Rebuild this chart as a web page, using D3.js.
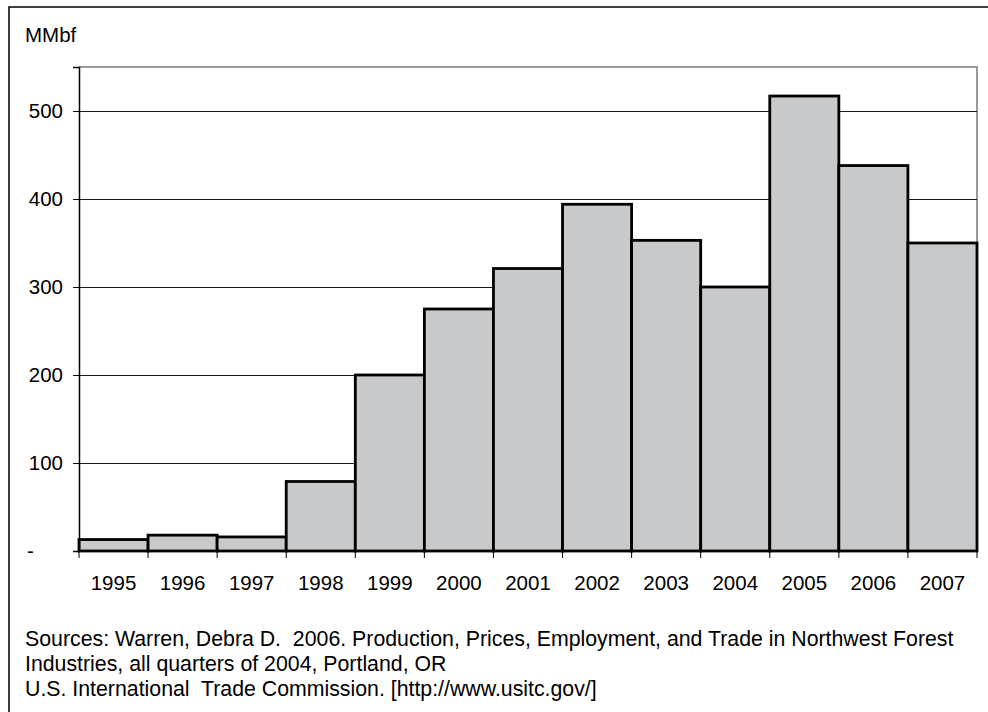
<!DOCTYPE html>
<html>
<head>
<meta charset="utf-8">
<script src="https://cdn.jsdelivr.net/npm/d3@7"></script>
<style>
  body { margin: 0; background: #fff; }
  svg { display: block; font-family: "Liberation Sans", Arial, sans-serif; }
</style>
</head>
<body>
<div id="chart"></div>
<script>
var years = ["1995","1996","1997","1998","1999","2000","2001","2002","2003","2004","2005","2006","2007"];
var volumes = [13, 18, 16, 79, 200, 275, 321, 394, 353, 300, 517, 438, 350];
var yTicks = [0, 100, 200, 300, 400, 500];
var sourceLines = [
    "Sources: Warren, Debra D.  2006. Production, Prices, Employment, and Trade in Northwest Forest",
    "Industries, all quarters of 2004, Portland, OR",
    "U.S. International  Trade Commission. [http://www.usitc.gov/]"
];

var width = 988, height = 712;
var plot = {left: 79, right: 977, top: 67, bottom: 551};

var svg = d3.select("#chart").append("svg")
    .attr("width", width)
    .attr("height", height);

// outer frame
svg.append("rect")
    .attr("x", 9).attr("y", 7)
    .attr("width", 1000).attr("height", 720)
    .attr("fill", "#fff")
    .attr("stroke", "#000")
    .attr("stroke-width", 1.5);

var x = d3.scaleBand().domain(years).range([plot.left, plot.right]).padding(0);
var y = d3.scaleLinear().domain([0, 550]).range([plot.bottom, plot.top]);

// plot border (grey top/right)
svg.append("path")
    .attr("d", "M" + plot.left + "," + plot.top + "H" + plot.right + "V" + plot.bottom)
    .attr("fill", "none")
    .attr("stroke", "#9a9a9a")
    .attr("stroke-width", 2);

// gridlines
svg.append("g").selectAll("line")
    .data(yTicks.filter(function(d) { return d > 0; }))
    .enter().append("line")
    .attr("x1", plot.left).attr("x2", plot.right)
    .attr("y1", function(d) { return Math.round(y(d)) + 0.5; })
    .attr("y2", function(d) { return Math.round(y(d)) + 0.5; })
    .attr("stroke", "#1a1a1a")
    .attr("stroke-width", 1);

// bars
svg.append("g").selectAll("rect")
    .data(years)
    .enter().append("rect")
    .attr("x", function(d) { return x(d); })
    .attr("y", function(d, i) { return y(volumes[i]); })
    .attr("width", x.bandwidth())
    .attr("height", function(d, i) { return y(0) - y(volumes[i]); })
    .attr("fill", "#c8c9cb")
    .attr("stroke", "#000")
    .attr("stroke-width", 2.8);

// y axis
var yAxis = d3.axisLeft(y)
    .tickValues(yTicks)
    .tickSize(6)
    .tickPadding(10)
    .tickFormat(function(d) { return d === 0 ? "-" : d; });

var gY = svg.append("g")
    .attr("transform", "translate(" + plot.left + ",0)")
    .call(yAxis);
gY.select(".domain").attr("stroke", "#000").attr("stroke-width", 1.5);
gY.selectAll(".tick line").attr("stroke", "#000");
gY.selectAll(".tick text")
    .attr("font-size", 20.5)
    .attr("fill", "#000")
    .style("font-family", "'Liberation Sans', Arial, sans-serif")
    .filter(function(d) { return d === 0; })
    .attr("text-anchor", "start")
    .attr("x", -52);

// x axis: ticks at category boundaries
var gX = svg.append("g");
gX.append("line")
    .attr("x1", plot.left).attr("x2", plot.right)
    .attr("y1", y(0)).attr("y2", y(0))
    .attr("stroke", "#000").attr("stroke-width", 2);
gX.selectAll(".xt")
    .data(years.concat(["end"]))
    .enter().append("line")
    .attr("class", "xt")
    .attr("x1", function(d) { return d === "end" ? plot.right : x(d); })
    .attr("x2", function(d) { return d === "end" ? plot.right : x(d); })
    .attr("y1", y(0)).attr("y2", y(0) + 7)
    .attr("stroke", "#000").attr("stroke-width", 1);
gX.selectAll(".xl")
    .data(years)
    .enter().append("text")
    .attr("class", "xl")
    .attr("x", function(d) { return x(d) + x.bandwidth() / 2; })
    .attr("y", 590)
    .attr("text-anchor", "middle")
    .attr("font-size", 20.5)
    .text(function(d) { return d; });

// unit label
svg.append("text")
    .attr("x", 25).attr("y", 42)
    .attr("font-size", 20.5)
    .text("MMbf");

// sources
svg.append("g").selectAll("text")
    .data(sourceLines)
    .enter().append("text")
    .attr("x", 25)
    .attr("y", function(d, i) { return 646 + i * 25; })
    .attr("font-size", 21.3)
    .style("white-space", "pre")
    .text(function(d) { return d; });
</script>
</body>
</html>
